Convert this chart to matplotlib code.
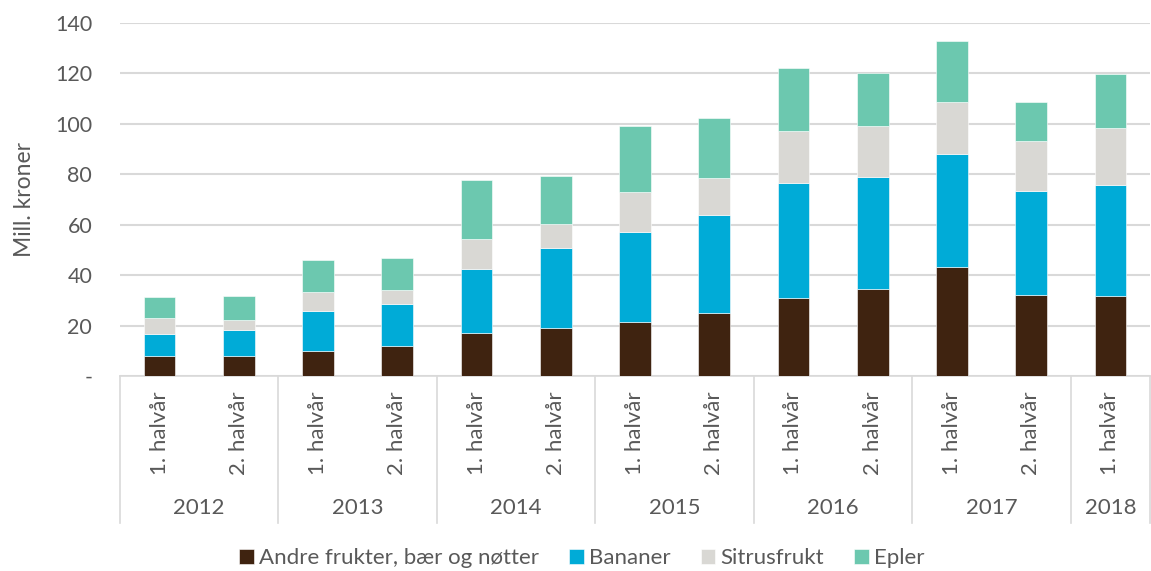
import matplotlib
matplotlib.use("Agg")
import matplotlib.pyplot as plt
import matplotlib.transforms as mtransforms
import numpy as np

years = ["2012", "2013", "2014", "2015", "2016", "2017", "2018"]
periods = ["1. halvår", "2. halvår"] * 6 + ["1. halvår"]
series_names = ["Andre frukter, bær og nøtter", "Bananer", "Sitrusfrukt", "Epler"]
andre = [8.0, 8.0, 10.0, 12.0, 17.0, 19.0, 21.4, 25.0, 31.1, 34.6, 43.2, 32.3, 31.9]
bananer = [8.7, 10.2, 15.8, 16.6, 25.4, 31.8, 35.7, 38.9, 45.6, 44.3, 45.0, 41.0, 44.0]
sitrus = [6.3, 4.0, 7.5, 5.5, 11.9, 9.5, 15.9, 14.7, 20.4, 20.4, 20.6, 19.9, 22.3]
epler = [8.3, 9.5, 12.7, 12.7, 23.5, 19.1, 26.2, 23.8, 25.1, 20.9, 24.0, 15.5, 21.6]
colors = ["#3F2310", "#00ABD7", "#D9D8D4", "#6CC8AF"]

text_color = "#595959"
plt.rcParams['font.family'] = ['Lato', 'DejaVu Sans']

fig = plt.figure(figsize=(11.51, 5.71), dpi=100)
ax = fig.add_axes([120/1151, 1-376/571, 1030/1151, 353/571])

x = np.arange(len(periods))
bottom = np.zeros(len(x))
for vals, c, name in zip([andre, bananer, sitrus, epler], colors, series_names):
    ax.bar(x, vals, bottom=bottom, width=0.4, color=c, label=name,
           edgecolor="white", linewidth=0.4, zorder=3)
    bottom += np.array(vals)

ax.set_xlim(-0.5, len(x) - 0.5)
ax.set_ylim(0, 140)
ax.set_yticks(np.arange(0, 141, 20))
ax.set_yticklabels(["-"] + [str(v) for v in range(20, 141, 20)])
ax.yaxis.grid(True, color="#D9D9D9", linewidth=1.5, zorder=0)
ax.set_axisbelow(True)
for s in ["top", "right", "left"]:
    ax.spines[s].set_visible(False)
ax.spines["bottom"].set_color("#D9D9D9")
ax.spines["bottom"].set_linewidth(1.2)

ax.tick_params(axis="y", length=0, pad=20, labelsize=15.5, labelcolor=text_color)
ax.set_xticks(x)
ax.set_xticklabels(periods, rotation=90, fontsize=16, color=text_color)
ax.tick_params(axis="x", length=0, pad=11)

ax.set_ylabel("Mill. kroner", fontsize=16.5, color=text_color)
ax.yaxis.set_label_coords(-0.083, 0.5)

trans = mtransforms.blended_transform_factory(ax.transData, ax.transAxes)
group_bounds = [-0.5, 1.5, 3.5, 5.5, 7.5, 9.5, 11.5, 12.5]
for b in group_bounds:
    ax.plot([b, b], [0, -0.416], transform=trans, color="#D9D9D9",
            linewidth=1.2, clip_on=False)
for i, yr in enumerate(years):
    c = (group_bounds[i] + group_bounds[i + 1]) / 2
    ax.text(c, -0.374, yr, transform=trans, ha="center", va="center",
            fontsize=16, color=text_color)

fig.legend(loc="center", bbox_to_anchor=(582/1151, 1 - 558/571), ncol=4,
           frameon=False, fontsize=16, handlelength=0.65, handleheight=0.65,
           handletextpad=0.25, columnspacing=1.35, labelcolor=text_color)

fig.savefig("out.png", dpi=100)
